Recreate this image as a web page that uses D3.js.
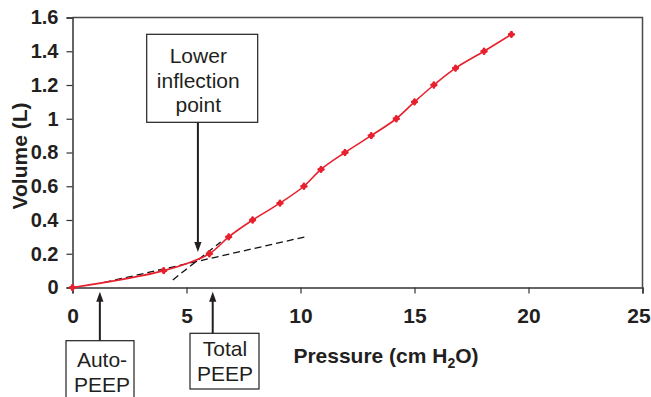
<!DOCTYPE html>
<html>
<head>
<meta charset="utf-8">
<script src="https://cdn.jsdelivr.net/npm/d3@7/dist/d3.min.js"></script>
<style>
  html, body { margin: 0; padding: 0; background: #fff; }
  svg { display: block; font-family: "Liberation Sans", Arial, Helvetica, sans-serif; }
</style>
</head>
<body>
<svg id="chart" width="651" height="397"></svg>
<script>
// ---- data ----
const pressure = [0, 4.0, 6.0, 6.85, 7.9, 9.1, 10.15, 10.9, 11.95, 13.1, 14.2, 15.0, 15.85, 16.8, 18.05, 19.25];
const volume   = [0, 0.1, 0.2, 0.3, 0.4, 0.5, 0.6, 0.7, 0.8, 0.9, 1.0, 1.1, 1.2, 1.3, 1.4, 1.5];
const xTicks = [0, 5, 10, 15, 20, 25];
const yTicks = [0, 0.2, 0.4, 0.6, 0.8, 1, 1.2, 1.4, 1.6];
// tangent (dashed) lines: [pressure, volume] end points
const lowTangent   = [[1.4, 0.03], [10.2, 0.30]];
const steepTangent = [[4.4, 0.045], [6.5, 0.27]];
// annotation arrow positions
const autoPEEP = 1.2;
const totalPEEP = 6.15;
const inflection = { p: 5.5, v: 0.21 };

const svg = d3.select("#chart");
const x = d3.scaleLinear().domain([0, 25]).range([72.5, 642.5]);
const y = d3.scaleLinear().domain([0, 1.6]).range([287.5, 17.5]);

const ink = "#231f20";
const red = "#e8202e";

// plot frame (top & right)
svg.append("path")
  .attr("d", `M${x(0)},${y(1.6)}H${x(25)}V${y(0)}`)
  .attr("fill", "none").attr("stroke", "#4a4a4a").attr("stroke-width", 1.5);

// y axis
const yAxis = svg.append("g").attr("transform", `translate(${x(0)},0)`)
  .call(d3.axisLeft(y).tickValues(yTicks).tickFormat(d3.format("")).tickSize(6).tickPadding(8));
yAxis.select(".domain").attr("stroke", "#333").attr("stroke-width", 1.5);
yAxis.selectAll(".tick line").attr("stroke", "#333").attr("stroke-width", 1.2);
yAxis.selectAll(".tick text").attr("fill", ink).attr("font-size", 20).attr("font-weight", "bold")
  .attr("font-family", "Liberation Sans, Arial, sans-serif");

// x axis
const xAxis = svg.append("g").attr("transform", `translate(0,${y(0)})`)
  .call(d3.axisBottom(x).tickValues(xTicks).tickFormat(d3.format("d")).tickSize(6).tickPadding(15));
xAxis.select(".domain").attr("stroke", "#333").attr("stroke-width", 1.5);
xAxis.selectAll(".tick line").attr("stroke", "#333").attr("stroke-width", 1.2);
xAxis.selectAll(".tick text").attr("fill", ink).attr("font-size", 21).attr("font-weight", "bold")
  .attr("font-family", "Liberation Sans, Arial, sans-serif")
  .attr("dx", d => d === 25 ? -4 : 0);

// axis titles
svg.append("text")
  .attr("transform", `translate(27,156) rotate(-90)`)
  .attr("text-anchor", "middle").attr("font-size", 21).attr("font-weight", "bold").attr("fill", ink)
  .text("Volume (L)");

const xt = svg.append("text")
  .attr("x", 386).attr("y", 363)
  .attr("text-anchor", "middle").attr("font-size", 21).attr("font-weight", "bold").attr("fill", ink);
xt.append("tspan").text("Pressure (cm H");
xt.append("tspan").attr("font-size", 14).attr("dy", 5).text("2");
xt.append("tspan").attr("dy", -5).text("O)");

// dashed tangents
const lineGen = d3.line().x(d => x(d[0])).y(d => y(d[1]));
[lowTangent, steepTangent].forEach(seg => {
  svg.append("path").attr("d", lineGen(seg))
    .attr("fill", "none").attr("stroke", "#111").attr("stroke-width", 1.3)
    .attr("stroke-dasharray", "7,4");
});

// data curve
const pts = pressure.map((p, i) => [p, volume[i]]);
svg.append("path")
  .attr("d", d3.line().x(d => x(d[0])).y(d => y(d[1])).curve(d3.curveCatmullRom.alpha(0.5))(pts))
  .attr("fill", "none").attr("stroke", red).attr("stroke-width", 1.6);
const mk = svg.append("g").selectAll("g").data(pts).join("g")
  .attr("transform", d => `translate(${x(d[0])},${y(d[1])})`);
mk.append("path").attr("d", d3.symbol().type(d3.symbolDiamond2).size(34)).attr("fill", red);
mk.append("path").attr("d", d3.symbol().type(d3.symbolCross).size(26)).attr("fill", red);

// arrow helper
function arrow(px, y0, y1) {
  const dir = Math.sign(y1 - y0);
  const headLen = 10, headW = 3.6;
  svg.append("line").attr("x1", px).attr("x2", px).attr("y1", y0).attr("y2", y1 - dir * headLen + dir)
    .attr("stroke", ink).attr("stroke-width", 2);
  svg.append("path")
    .attr("d", `M${px},${y1}L${px - headW},${y1 - dir * headLen}L${px + headW},${y1 - dir * headLen}Z`)
    .attr("fill", ink);
}
function box(x0, y0, x1, y1) {
  svg.append("rect").attr("x", x0).attr("y", y0).attr("width", x1 - x0).attr("height", y1 - y0)
    .attr("fill", "#fff").attr("stroke", ink).attr("stroke-width", 1.2);
}
function label(lines, cx, baseline0, step) {
  lines.forEach((t, i) => {
    svg.append("text").attr("x", cx).attr("y", baseline0 + i * step)
      .attr("text-anchor", "middle").attr("font-size", 21).attr("fill", ink).text(t);
  });
}

// Lower inflection point
box(146.7, 34.3, 257.7, 122.3);
label(["Lower", "inflection", "point"], 198.3, 63, 24.6);
arrow(x(inflection.p), 122.3, y(inflection.v));

// Auto-PEEP
box(66, 340.7, 134, 420);
label(["Auto-", "PEEP"], 102, 366.5, 25);
arrow(x(autoPEEP), 340.7, 291.7);

// Total PEEP
box(190, 333.3, 259, 389);
label(["Total", "PEEP"], 225, 355.5, 25);
arrow(x(totalPEEP), 333.3, 291.7);
</script>
</body>
</html>
